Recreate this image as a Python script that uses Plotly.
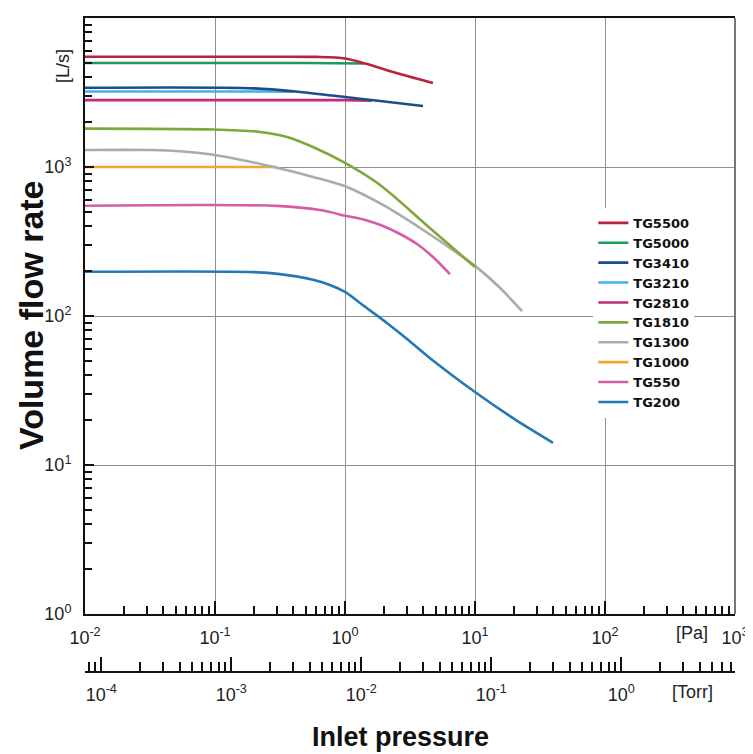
import plotly.graph_objects as go
import math

# ---------------- data ----------------
series_names = ["TG5500", "TG5000", "TG3410", "TG3210", "TG2810",
                "TG1810", "TG1300", "TG1000", "TG550", "TG200"]

pa_5500 = [0.01, 0.3, 0.6, 1.0, 1.43, 2.65, 4.75]
q_5500 = [5500, 5500, 5480, 5350, 4950, 4210, 3660]

pa_5000 = [0.01, 0.5, 1.4]
q_5000 = [4990, 4990, 4950]

pa_3410 = [0.01, 0.2, 0.45, 1.0, 1.86, 3.98]
q_3410 = [3400, 3370, 3190, 2950, 2770, 2570]

pa_3210 = [0.01, 0.2, 0.4]
q_3210 = [3210, 3210, 3200]

pa_2810 = [0.01, 1.0, 1.6]
q_2810 = [2810, 2810, 2790]

pa_1810 = [0.01, 0.097, 0.222, 0.358, 0.567, 1.0, 1.86, 4.4, 10]
q_1810 = [1810, 1785, 1718, 1590, 1361, 1064, 757, 396, 213]

pa_1300 = [0.01, 0.0316, 0.0567, 0.1, 0.176, 0.316, 0.567, 1.035, 1.96,
           3.58, 6.1, 10, 15.6, 23]
q_1300 = [1300, 1300, 1271, 1205, 1097, 977, 858, 734, 556,
          402, 295, 217, 154, 108]

pa_1000 = [0.01, 0.3]
q_1000 = [1000, 1000]

pa_550 = [0.01, 0.3, 0.643, 1.03, 1.43, 1.96, 2.65, 3.58, 4.75, 6.42]
q_550 = [550, 548, 514, 469, 441, 402, 355, 304, 249, 191]

pa_200 = [0.01, 0.2, 0.316, 0.567, 0.767, 1.0, 1.40, 2.1, 3.0, 4.59, 10, 20, 39.8]
q_200 = [198, 197, 191, 175, 161.5, 145, 116.7, 89.8, 70.2, 51.5, 30.9, 20.4, 14.1]

pa_ticks = [0.01, 0.1, 1, 10, 100, 1000]
pa_ticktext = ["10<sup>-2</sup>", "10<sup>-1</sup>", "10<sup>0</sup>",
               "10<sup>1</sup>", "10<sup>2</sup>", "10<sup>3</sup>"]
torr_ticks = [1e-4, 1e-3, 1e-2, 1e-1, 1]
torr_ticktext = ["10<sup>-4</sup>", "10<sup>-3</sup>", "10<sup>-2</sup>",
                 "10<sup>-1</sup>", "10<sup>0</sup>"]
q_ticks = [1, 10, 100, 1000, 10000]
q_ticktext = ["10<sup>0</sup>", "10<sup>1</sup>", "10<sup>2</sup>",
              "10<sup>3</sup>", "10<sup>4</sup>"]
PA_PER_TORR = 133.322

colors = {
    "TG5500": "#b8233d", "TG5000": "#1e9a5e", "TG3410": "#1d4c8a",
    "TG3210": "#3cb4e6", "TG2810": "#c2287c", "TG1810": "#7ea83c",
    "TG1300": "#ababab", "TG1000": "#f0a832", "TG550": "#d65ca8",
    "TG200": "#2479b5",
}
data = {
    "TG5500": (pa_5500, q_5500), "TG5000": (pa_5000, q_5000),
    "TG3410": (pa_3410, q_3410), "TG3210": (pa_3210, q_3210),
    "TG2810": (pa_2810, q_2810), "TG1810": (pa_1810, q_1810),
    "TG1300": (pa_1300, q_1300), "TG1000": (pa_1000, q_1000),
    "TG550": (pa_550, q_550), "TG200": (pa_200, q_200),
}
draw_order = ["TG1000", "TG3210", "TG2810", "TG5000", "TG5500", "TG3410",
              "TG200", "TG550", "TG1300", "TG1810"]

fig = go.Figure()
for name in draw_order:
    x, y = data[name]
    fig.add_trace(go.Scatter(
        x=x, y=y, mode="lines", name=name,
        line=dict(color=colors[name], width=2.6, shape="spline", smoothing=0.85),
        legendrank=series_names.index(name) + 1,
    ))

# invisible trace so the Torr axis is drawn
fig.add_trace(go.Scatter(x=[1e-3], y=[1e-3], xaxis="x2", yaxis="y",
                         mode="markers", marker=dict(opacity=0),
                         showlegend=False, hoverinfo="skip"))

def minors(lo, hi):
    vals = []
    for e in range(lo, hi):
        for m in range(2, 10):
            vals.append(m * 10 ** e)
    return vals

torr_lo = math.log10(0.01 / PA_PER_TORR)
torr_hi = math.log10(1000 / PA_PER_TORR)
torr_minor = [v for v in minors(-5, 1) if torr_lo < math.log10(v) < torr_hi]

tick_font = dict(family="Liberation Sans Narrow, Arial Narrow, Liberation Sans, Arial",
                 size=18, color="#222")

# the page adds an 8px body margin; compensate so the plot lands where the reference has it
OFF = 8
W, H = 753 - OFF, 754 - OFF
ml, mt = 85 - OFF, 18 - OFF
mr = W - (735 - OFF)
mb = H - (672 - OFF)
plot_w = W - ml - mr
plot_h = H - mt - mb
y_bottom = (672 - 614) / plot_h

fig.update_layout(
    width=W, height=H,
    margin=dict(l=ml, r=mr, t=mt, b=mb, autoexpand=False),
    paper_bgcolor="white", plot_bgcolor="white",
    showlegend=True,
    legend=dict(x=0.782, y=0.7096, xanchor="left", yanchor="top",
                bgcolor="white", borderwidth=0,
                font=dict(family="DejaVu Sans", size=13, color="#111", weight="bold"),
                tracegroupgap=0),
    xaxis=dict(type="log", range=[-2, 3], domain=[0, 1], anchor="y",
               automargin=False,
               showline=True, linecolor="#111", linewidth=2, mirror=True,
               showgrid=True, gridcolor="#8f8f8f", gridwidth=1,
               tickmode="array", tickvals=pa_ticks, ticktext=pa_ticktext,
               ticks="inside", ticklen=13, tickwidth=1.5, tickcolor="#111",
               minor=dict(tickmode="array", tickvals=minors(-2, 3),
                          ticks="inside", ticklen=8, tickwidth=1.5,
                          tickcolor="#111", showgrid=False),
               tickfont=tick_font, ticklabelstandoff=6, zeroline=False),
    xaxis2=dict(type="log", range=[torr_lo, torr_hi], overlaying="x",
                anchor="free", position=0, side="bottom", automargin=False,
                showline=True, linecolor="#111", linewidth=2,
                showgrid=False,
                tickmode="array", tickvals=torr_ticks, ticktext=torr_ticktext,
                ticks="inside", ticklen=14, tickwidth=1.5, tickcolor="#111",
                minor=dict(tickmode="array", tickvals=torr_minor,
                           ticks="inside", ticklen=9, tickwidth=1.5,
                           tickcolor="#111", showgrid=False),
                tickfont=tick_font, ticklabelstandoff=6, zeroline=False),
    yaxis=dict(type="log", range=[0, 4], domain=[y_bottom, 1], automargin=False,
               showline=True, linecolor="#111", linewidth=2,
               showgrid=True, gridcolor="#8f8f8f", gridwidth=1,
               tickmode="array", tickvals=q_ticks, ticktext=q_ticktext,
               ticks="inside", ticklen=9, tickwidth=1.5, tickcolor="#111",
               minor=dict(tickmode="array", tickvals=minors(0, 4),
                          ticks="inside", ticklen=7, tickwidth=1.5,
                          tickcolor="#111", showgrid=False),
               tickfont=tick_font, ticklabelstandoff=8, zeroline=False),
)

# right border (gray)
fig.add_shape(type="line", xref="paper", yref="paper",
              x0=1, x1=1, y0=y_bottom, y1=1,
              line=dict(color="#777", width=2))

fig.add_annotation(text="<b>Inlet pressure</b>", xref="paper", yref="paper",
                   x=(400 - 85) / plot_w, y=(672 - 737) / plot_h, showarrow=False,
                   font=dict(family="Liberation Sans, Arial", size=27, color="#111"),
                   xanchor="center", yanchor="middle")
fig.add_annotation(text="<b>Volume flow rate</b>", xref="paper", yref="paper",
                   x=(31 - 85) / plot_w, y=(672 - 315) / plot_h, showarrow=False,
                   textangle=-90,
                   font=dict(family="Liberation Sans, Arial", size=34, color="#111"),
                   xanchor="center", yanchor="middle")
fig.add_annotation(text="[L/s]", xref="paper", yref="paper",
                   x=(63 - 85) / plot_w, y=(672 - 66) / plot_h, showarrow=False,
                   textangle=-90, font=tick_font,
                   xanchor="center", yanchor="middle")
fig.add_annotation(text="[Pa]", xref="paper", yref="paper",
                   x=(692 - 85) / plot_w, y=(672 - 633) / plot_h, showarrow=False,
                   font=tick_font, xanchor="center", yanchor="middle")
fig.add_annotation(text="[Torr]", xref="paper", yref="paper",
                   x=(692 - 85) / plot_w, y=(672 - 692) / plot_h, showarrow=False,
                   font=tick_font, xanchor="center", yanchor="middle")

fig.write_html("out.html")
